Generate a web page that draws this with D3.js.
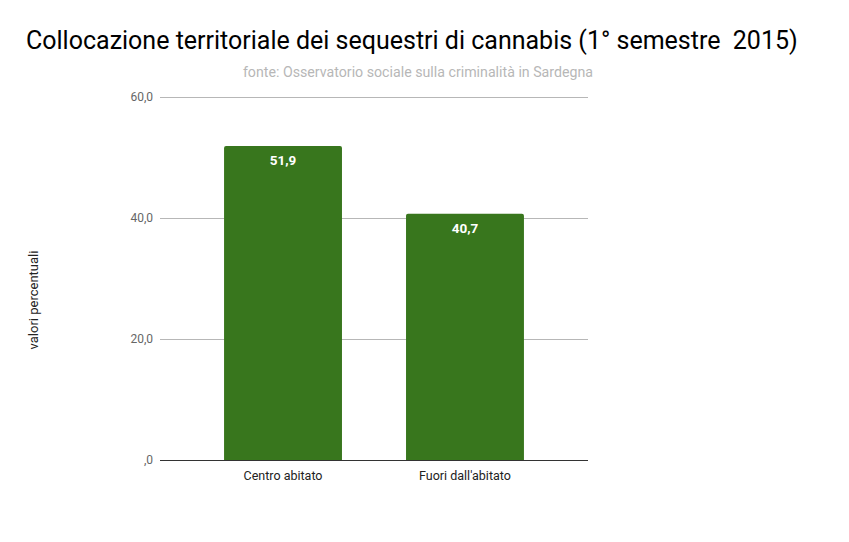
<!DOCTYPE html>
<html><head><meta charset="utf-8">
<script src="https://cdn.jsdelivr.net/npm/d3@7"></script>
<style>body{margin:0;background:#fff;font-family:Roboto,sans-serif;} svg text{white-space:pre;}</style>
</head><body>
<svg id="c" width="849" height="542"></svg>
<script>
const categories = ["Centro abitato", "Fuori dall'abitato"];
const values = [51.9, 40.7];
const tickValues = [0, 20, 40, 60];
const tickLabels = [",0", "20,0", "40,0", "60,0"];
const title = "Collocazione territoriale dei sequestri di cannabis (1° semestre  2015)";
const subtitle = "fonte: Osservatorio sociale sulla criminalità in Sardegna";
const yTitle = "valori percentuali";

(function () {
const svg = d3.select("#c");
const pLeft = 160, pRight = 588, pTop = 97, pBottom = 460;
const x = d3.scaleBand().domain(categories).range([pLeft, pRight]).padding(0.352);
const y = d3.scaleLinear().domain([0, 60]).range([pBottom, pTop]);

svg.append("text").attr("x", 26).attr("y", 49).attr("font-size", 25).attr("fill", "#000").text(title);
svg.append("text").attr("x", 418).attr("y", 77).attr("text-anchor", "middle").attr("font-size", 14.2).attr("fill", "#b7b7b7").text(subtitle);

// grid
const gy = svg.append("g");
gy.selectAll("line").data(tickValues.filter(d => d !== 0)).join("line")
  .attr("x1", pLeft).attr("x2", pRight).attr("y1", d => y(d)+0.5).attr("y2", d => y(d)+0.5)
  .attr("stroke", "#b7b7b7").attr("stroke-width", 1);
gy.selectAll("text").data(tickValues).join("text")
  .attr("x", 153).attr("y", d => y(d) + 4).attr("text-anchor", "end")
  .attr("font-size", 12).attr("fill", "#666").text((d, i) => tickLabels[i]);

// bars
const r = 2;
svg.selectAll("path.bar").data(categories).join("path").attr("class", "bar")
  .attr("fill", "#38761d")
  .attr("d", (c, i) => {
    const x0 = x(c), x1 = x(c) + x.bandwidth(), y0 = y(values[i]), yb = y(0);
    return `M${x0},${yb}V${y0 + r}Q${x0},${y0} ${x0 + r},${y0}H${x1 - r}Q${x1},${y0} ${x1},${y0 + r}V${yb}Z`;
  });
svg.selectAll("text.val").data(categories).join("text").attr("class", "val")
  .attr("x", c => x(c) + x.bandwidth() / 2).attr("y", (c, i) => y(values[i]) + 19)
  .attr("text-anchor", "middle").attr("font-size", 13.5).attr("font-weight", "bold").attr("fill", "#fff")
  .text((c, i) => values[i].toFixed(1).replace(".", ","));

// baseline
svg.append("line").attr("x1", pLeft).attr("x2", pRight).attr("y1", pBottom + 0.5).attr("y2", pBottom + 0.5)
  .attr("stroke", "#333").attr("stroke-width", 1);

// x labels
svg.selectAll("text.xl").data(categories).join("text").attr("class", "xl")
  .attr("x", c => x(c) + x.bandwidth() / 2).attr("y", 480)
  .attr("text-anchor", "middle").attr("font-size", 12.5).attr("fill", "#222").text(c => c);

svg.append("text").attr("transform", "translate(38,300) rotate(-90)").attr("text-anchor", "middle")
  .attr("font-size", 13).attr("fill", "#222").text(yTitle);
})();
</script>
</body></html>
